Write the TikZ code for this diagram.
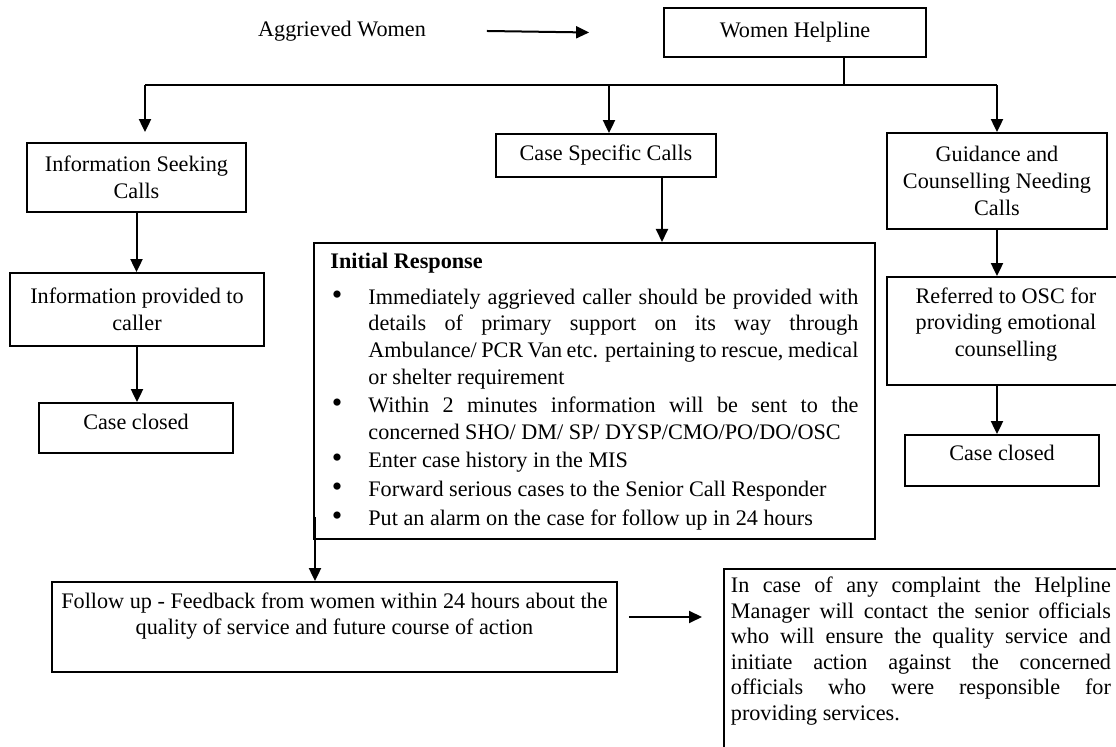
\documentclass[tikz,border=0pt]{standalone}
\usepackage{fontspec}
\setmainfont{Liberation Serif}
\usepackage{tikz}
\usetikzlibrary{positioning}
\usetikzlibrary{arrows.meta}

\begin{document}
\begin{tikzpicture}[x=0.5pt, y=-0.5pt,
  font=\fontsize{11.1}{13.3}\selectfont,
  box/.style={draw, line width=0.9pt, align=center, inner sep=0pt},
  link/.style={line width=1pt},
  flow/.style={line width=1pt, -{Triangle[length=6.5pt, width=6pt]}}]

\useasboundingbox (0,0) rectangle (1116,747);

\node (victim) at (342,31) {Aggrieved Women};

\node (helpline) [box, minimum width=131pt, minimum height=24.5pt] at (795,32.5) {Women Helpline};

\coordinate (split) at (844,85);
\coordinate (fork) at (145,85);

\node (seeking) [box, minimum width=109.5pt, minimum height=34.5pt] at (136.5,177.5) {Information Seeking\\Calls};

\node (specific) [box, minimum width=110pt, minimum height=21.5pt] at (606,155.5) {Case Specific Calls};

\node (guidance) [box, minimum width=110pt, minimum height=48pt] at (997,181) {Guidance and\\Counselling Needing\\Calls};

\node (provided) [box, minimum width=127pt, minimum height=36.5pt] at (137,309.5) {Information provided to\\caller};

\node (closedA) [box, minimum width=97pt, minimum height=25pt, text depth=6pt] at (136,428) {Case closed};

\node (referred) [box, minimum width=119pt, minimum height=54pt, text depth=9pt] at (1006,331) {Referred to OSC for\\providing emotional\\counselling};

\node (closedB) [box, minimum width=97pt, minimum height=25.5pt, text depth=7.5pt] at (1002,460.5) {Case closed};

\node (response) [box, anchor=north west, minimum width=280.5pt, inner ysep=5pt] at (313,242) {\parbox[t][138pt][t]{264pt}{%
\textbf{Initial Response}
\begin{list}{{\fontsize{15}{13}\selectfont\textbullet}}{\setlength{\leftmargin}{19pt}\setlength{\labelwidth}{6pt}\setlength{\labelsep}{13pt}%
\setlength{\topsep}{4.7pt}\setlength{\partopsep}{0pt}\setlength{\itemsep}{1pt}\setlength{\parsep}{0pt}}
\item Immediately aggrieved caller should be provided with\linebreak details of primary support on its way through\linebreak Ambulance/ PCR Van etc. pertaining to rescue, medical\linebreak or shelter requirement
\item Within 2 minutes information will be sent to the\linebreak concerned SHO/ DM/ SP/ DYSP/CMO/PO/DO/OSC
\item Enter case history in the MIS
\item Forward serious cases to the Senior Call Responder
\item Put an alarm on the case for follow up in 24 hours
\end{list}}};

\node (follow) [box, minimum width=282.5pt, minimum height=45pt, text depth=13.4pt] at (334.5,627) {Follow up - Feedback from women within 24 hours about the\\quality of service and future course of action};

\node (complaint) [box, anchor=north west, inner xsep=3.5pt, inner ysep=4pt] at (723,568) {\parbox[t][100pt][t]{190pt}{\fontsize{11.1}{12.8}\selectfont
In case of any complaint the Helpline\linebreak Manager will contact the senior officials\linebreak who will ensure the quality service and\linebreak initiate action against the concerned\linebreak officials who were responsible for\linebreak providing services.}};

\draw [flow] ([xshift=27pt]victim.east) -- ([xshift=-37pt]helpline.west);
\draw [link] ([xshift=24.5pt]helpline.south) -- (split);
\draw [link] (fork) -- (fork -| guidance.north);
\draw [flow] (fork) -- ([yshift=5pt]fork |- seeking.north);
\draw [flow] ([xshift=1.5pt]fork -| specific.north) -- ([xshift=1.5pt]specific.north);
\draw [flow] (fork -| guidance.north) -- (guidance.north);
\draw [flow] (seeking.south) -- (seeking.south |- provided.north);
\draw [flow] (provided.south) -- (provided.south |- closedA.north);
\draw [flow] ([xshift=28pt]specific.south) -- ([xshift=28pt]specific.south |- response.north);
\draw [flow] (guidance.south) -- (guidance.south |- referred.north);
\draw [flow] (guidance.south |- referred.south) -- (guidance.south |- closedB.north);
\draw [flow] ([shift={(1pt,11.5pt)}]response.south west) -- ([xshift=1pt]response.south west |- follow.north);
\draw [flow] ([shift={(5.5pt,5pt)}]follow.east) -- ([shift={(-10.5pt,5pt)}]follow.east -| complaint.west);

\end{tikzpicture}
\end{document}
